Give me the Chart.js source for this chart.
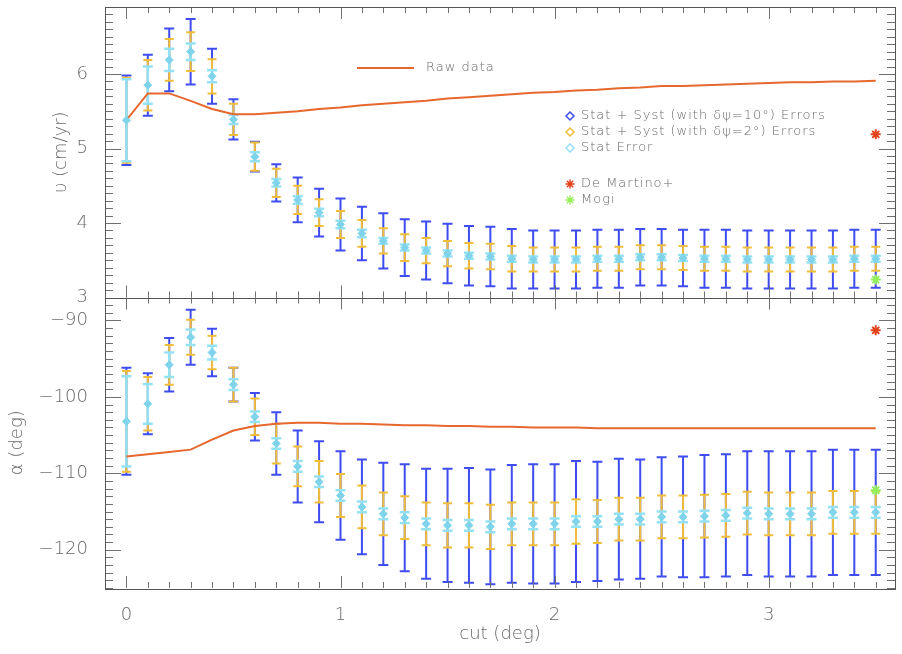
<!DOCTYPE html>
<html>
<head>
<meta charset="utf-8">
<script src="https://cdn.jsdelivr.net/npm/chart.js@4.4.0/dist/chart.umd.min.js"></script>
<style>
  html, body { margin: 0; padding: 0; background: #fff; }
  canvas { display: block; }
</style>
</head>
<body>
<canvas id="myChart" width="902" height="654"></canvas>
<script>
// cut values (deg)
const cuts = [0.0, 0.1, 0.2, 0.3, 0.4, 0.5, 0.6, 0.7, 0.8, 0.9,
              1.0, 1.1, 1.2, 1.3, 1.4, 1.5, 1.6, 1.7, 1.8, 1.9,
              2.0, 2.1, 2.2, 2.3, 2.4, 2.5, 2.6, 2.7, 2.8, 2.9,
              3.0, 3.1, 3.2, 3.3, 3.4, 3.5];

// top panel: velocity (cm/yr)
const vel = [5.38, 5.85, 6.19, 6.30, 5.97, 5.39, 4.89, 4.54, 4.31, 4.14,
             3.98, 3.86, 3.76, 3.67, 3.63, 3.59, 3.56, 3.55, 3.52, 3.51,
             3.51, 3.51, 3.52, 3.52, 3.54, 3.54, 3.53, 3.52, 3.52, 3.51,
             3.51, 3.51, 3.51, 3.51, 3.52, 3.52];
const velErrSys10 = [0.60, 0.41, 0.42, 0.44, 0.37, 0.27, 0.20, 0.25, 0.30, 0.32,
                     0.35, 0.36, 0.37, 0.38, 0.39, 0.40, 0.40, 0.40, 0.40, 0.39,
                     0.39, 0.39, 0.39, 0.39, 0.38, 0.38, 0.38, 0.39, 0.39, 0.39,
                     0.39, 0.39, 0.39, 0.39, 0.39, 0.39];
const velErrSys2 = [0.57, 0.34, 0.28, 0.26, 0.23, 0.21, 0.19, 0.19, 0.19, 0.18,
                    0.18, 0.18, 0.17, 0.18, 0.17, 0.17, 0.17, 0.17, 0.17, 0.16,
                    0.16, 0.16, 0.16, 0.16, 0.16, 0.16, 0.16, 0.16, 0.16, 0.16,
                    0.16, 0.16, 0.16, 0.16, 0.16, 0.16];
const velErrStat = [0.55, 0.25, 0.15, 0.11, 0.08, 0.06, 0.06, 0.05, 0.05, 0.05,
                    0.05, 0.05, 0.04, 0.04, 0.04, 0.04, 0.04, 0.04, 0.04, 0.04,
                    0.04, 0.04, 0.04, 0.04, 0.04, 0.04, 0.04, 0.04, 0.04, 0.04,
                    0.04, 0.04, 0.04, 0.04, 0.04, 0.04];
const velRaw = [5.38, 5.74, 5.74, 5.64, 5.53, 5.46, 5.46, 5.48, 5.50, 5.53,
                5.55, 5.58, 5.60, 5.62, 5.64, 5.67, 5.69, 5.71, 5.73, 5.75,
                5.76, 5.78, 5.79, 5.81, 5.82, 5.84, 5.84, 5.85, 5.86, 5.87,
                5.88, 5.89, 5.89, 5.90, 5.90, 5.91];

// bottom panel: alpha (deg)
const alpha = [-103.2, -100.9, -95.8, -92.2, -94.2, -98.4, -102.6, -106.1, -109.1, -111.1,
               -112.9, -114.4, -115.3, -115.8, -116.6, -116.8, -116.8, -117.0, -116.6, -116.6,
               -116.6, -116.3, -116.3, -116.0, -116.0, -115.7, -115.7, -115.6, -115.5, -115.2,
               -115.3, -115.3, -115.3, -115.1, -115.1, -115.1];
const alphaErrSys10 = [7.0, 4.0, 3.5, 3.6, 3.1, 2.2, 3.1, 4.1, 4.7, 5.3,
                       5.8, 6.2, 6.7, 7.0, 7.2, 7.4, 7.5, 7.5, 7.7, 7.8,
                       7.8, 7.9, 7.8, 7.9, 7.8, 7.8, 7.9, 8.0, 8.0, 8.1,
                       8.2, 8.2, 8.2, 8.2, 8.2, 8.2];
const alphaErrSys2 = [6.6, 3.5, 2.6, 2.3, 2.2, 2.2, 2.4, 2.6, 2.6, 2.7,
                      2.8, 2.8, 2.8, 2.8, 2.8, 2.9, 2.9, 2.9, 2.8, 2.8,
                      2.8, 2.9, 2.8, 2.8, 2.8, 2.8, 2.8, 2.8, 2.8, 2.8,
                      2.8, 2.8, 2.8, 2.8, 2.8, 2.8];
const alphaErrStat = [5.9, 2.6, 1.6, 1.0, 0.9, 0.7, 0.7, 0.7, 0.7, 0.7,
                      0.7, 0.7, 0.7, 0.7, 0.7, 0.7, 0.7, 0.7, 0.7, 0.7,
                      0.7, 0.7, 0.7, 0.7, 0.7, 0.7, 0.7, 0.7, 0.7, 0.7,
                      0.7, 0.7, 0.7, 0.7, 0.7, 0.7];
const alphaRaw = [-107.8, -107.5, -107.2, -106.9, -105.6, -104.4, -103.8, -103.5, -103.4, -103.4,
                  -103.5, -103.5, -103.6, -103.7, -103.7, -103.8, -103.8, -103.9, -103.9, -104.0,
                  -104.0, -104.0, -104.1, -104.1, -104.1, -104.1, -104.1, -104.1, -104.1, -104.1,
                  -104.1, -104.1, -104.1, -104.1, -104.1, -104.1];

// reference solutions
const refCuts = [3.5];
const deMartinoVel = [5.19];
const deMartinoAlpha = [-91.3];
const mogiVel = [3.24];
const mogiAlpha = [-112.2];

// tick labels
const xTickVals = [0, 1, 2, 3];
const velTickVals = [3, 4, 5, 6];
const alphaTickVals = [-90, -100, -110, -120];

const BLUE = '#3f4cf0';
const GOLD = '#f0bd3a';
const CYAN = '#95e1f4';
const CYAN_PT = '#7fd3ea';
const RAW = '#e6682e';
const RED = '#e4421c';
const GREEN = '#94f05a';
const TEXT = '#6a6a6a';
const FONT = '"DejaVu Sans"';

const pts = (xs, ys) => xs.map((x, i) => ({ x: x, y: ys[i] }));

function errSet(label, axis, ys, errs, color, cap, width, withPoints) {
    return {
        label: label,
        yAxisID: axis,
        data: pts(cuts, ys),
        errors: errs,
        errColor: color,
        errCap: cap,
        errWidth: width,
        pointStyle: 'rectRot',
        pointRadius: withPoints ? 4 : 0,
        pointBackgroundColor: CYAN_PT,
        pointBorderColor: CYAN_PT,
        borderWidth: 1
    };
}

function refSet(label, axis, ys, color) {
    return {
        label: label,
        yAxisID: axis,
        data: pts(refCuts, ys),
        pointStyle: 'star',
        pointRadius: 5,
        pointBorderWidth: 2,
        pointBorderColor: color,
        pointBackgroundColor: color
    };
}

function lineSet(label, axis, ys) {
    return {
        label: label,
        yAxisID: axis,
        data: pts(cuts, ys),
        showLine: true,
        borderColor: RAW,
        borderWidth: 2,
        pointRadius: 0
    };
}

const datasets = [
    errSet('Stat + Syst (with δψ=10°) Errors', 'yv', vel, velErrSys10, BLUE, 5, 2, false),
    errSet('Stat + Syst (with δψ=2°) Errors', 'yv', vel, velErrSys2, GOLD, 4.5, 2, false),
    errSet('Stat Error', 'yv', vel, velErrStat, CYAN, 5, 2.5, true),
    errSet('Stat + Syst (with δψ=10°) Errors', 'ya', alpha, alphaErrSys10, BLUE, 5, 2, false),
    errSet('Stat + Syst (with δψ=2°) Errors', 'ya', alpha, alphaErrSys2, GOLD, 4.5, 2, false),
    errSet('Stat Error', 'ya', alpha, alphaErrStat, CYAN, 5, 2.5, true),
    lineSet('Raw data', 'yv', velRaw),
    lineSet('Raw data', 'ya', alphaRaw),
    refSet('De Martino+', 'yv', deMartinoVel, RED),
    refSet('De Martino+', 'ya', deMartinoAlpha, RED),
    refSet('Mogi', 'yv', mogiVel, GREEN),
    refSet('Mogi', 'ya', mogiAlpha, GREEN)
];

// error bars drawn behind the points, through the y scales
const errorBars = {
    id: 'errorBars',
    beforeDatasetsDraw(chart) {
        const ctx = chart.ctx;
        chart.data.datasets.forEach((ds, i) => {
            if (!ds.errors) return;
            const meta = chart.getDatasetMeta(i);
            const ys = chart.scales[ds.yAxisID];
            ctx.save();
            ctx.strokeStyle = ds.errColor;
            ctx.lineWidth = ds.errWidth;
            meta.data.forEach((el, j) => {
                const v = ds.data[j].y, e = ds.errors[j];
                const x = el.x;
                const y1 = ys.getPixelForValue(v + e);
                const y2 = ys.getPixelForValue(v - e);
                const c = ds.errCap;
                ctx.beginPath();
                ctx.moveTo(x, y1); ctx.lineTo(x, y2);
                ctx.moveTo(x - c, y1); ctx.lineTo(x + c, y1);
                ctx.moveTo(x - c, y2); ctx.lineTo(x + c, y2);
                ctx.stroke();
            });
            ctx.restore();
        });
    }
};

// IDL style frame with inward ticks on all sides
const frameTicks = {
    id: 'frameTicks',
    afterDatasetsDraw(chart) {
        const ctx = chart.ctx;
        const xs = chart.scales.x;
        const L = xs.left, R = xs.right;
        ctx.save();
        ctx.lineWidth = 1;
        [['yv', 0.1, 1], ['ya', 1, 10]].forEach(([id, minor, major]) => {
            const s = chart.scales[id];
            const T = s.top, B = s.bottom;
            ctx.strokeStyle = '#707070';
            ctx.beginPath();
            // x ticks
            for (let k = -1; k <= 36; k++) {
                const v = k / 10;
                const px = Math.round(xs.getPixelForValue(v)) + 0.5;
                if (px < L || px > R) continue;
                const len = (k % 10 === 0) ? 12 : 6;
                ctx.moveTo(px, T); ctx.lineTo(px, T + len);
                ctx.moveTo(px, B); ctx.lineTo(px, B - len);
            }
            // y ticks
            const n0 = Math.ceil(s.min / minor - 1e-6), n1 = Math.floor(s.max / minor + 1e-6);
            for (let k = n0; k <= n1; k++) {
                const v = k * minor;
                const py = Math.round(s.getPixelForValue(v)) + 0.5;
                const isMajor = Math.abs(v / major - Math.round(v / major)) < 1e-6;
                const len = isMajor ? 16 : 8;
                ctx.moveTo(L, py); ctx.lineTo(L + len, py);
                ctx.moveTo(R, py); ctx.lineTo(R - len, py);
            }
            ctx.stroke();
            ctx.strokeStyle = '#555';
            ctx.strokeRect(Math.round(L) + 0.5, Math.round(T) + 0.5, Math.round(R - L), Math.round(B - T));
        });
        ctx.restore();
    }
};

// in-plot legends
const panelLegend = {
    id: 'panelLegend',
    afterDraw(chart) {
        const ctx = chart.ctx;
        ctx.save();
        ctx.font = '200 13px ' + FONT;
        ctx.letterSpacing = '1px';
        ctx.fillStyle = TEXT;
        ctx.textBaseline = 'middle';

        ctx.strokeStyle = RAW;
        ctx.lineWidth = 2;
        ctx.beginPath(); ctx.moveTo(357, 68); ctx.lineTo(414, 68); ctx.stroke();
        ctx.fillText('Raw data', 426, 68);

        const rows = [
            [datasets[0].label, BLUE, 'diamond', 116],
            [datasets[1].label, GOLD, 'diamond', 132],
            [datasets[2].label, CYAN, 'diamond', 148],
            [datasets[8].label, RED, 'star', 184],
            [datasets[10].label, GREEN, 'star', 200]
        ];
        rows.forEach(([label, color, shape, y]) => {
            const x = 570;
            ctx.strokeStyle = color;
            ctx.lineWidth = 1.5;
            ctx.beginPath();
            if (shape === 'diamond') {
                ctx.moveTo(x, y - 4); ctx.lineTo(x + 4, y); ctx.lineTo(x, y + 4); ctx.lineTo(x - 4, y); ctx.closePath();
            } else {
                for (let a = 0; a < 4; a++) {
                    const t = a * Math.PI / 4;
                    ctx.moveTo(x - 4.5 * Math.cos(t), y - 4.5 * Math.sin(t));
                    ctx.lineTo(x + 4.5 * Math.cos(t), y + 4.5 * Math.sin(t));
                }
            }
            ctx.stroke();
            ctx.fillText(label, 581, y);
        });
        ctx.restore();
    }
};

const tickFont = { family: FONT, size: 18, weight: '200' };
const titleFont = { family: FONT, size: 18, weight: '200' };
const minusSign = v => String(v).replace('-', '\u2212');

// fixed axis boxes, no extra room for end labels
const fixWidth = s => { s.width = 105; s.paddingTop = 0; s.paddingBottom = 0; };
const fixHeight = s => { s.height = 66; s.paddingLeft = 0; s.paddingRight = 0; };

const ctx = document.getElementById('myChart').getContext('2d');
const chart = new Chart(ctx, {
    type: 'scatter',
    data: { datasets: datasets },
    plugins: [errorBars, frameTicks, panelLegend],
    options: {
        responsive: false,
        animation: false,
        devicePixelRatio: 1,
        layout: { padding: { top: 3, right: 5, left: 0, bottom: 0 } },
        plugins: { legend: { display: false }, tooltip: { enabled: false } },
        scales: {
            x: {
                type: 'linear',
                position: 'bottom',
                min: -0.1,
                max: 3.59,
                grid: { display: false },
                border: { display: false },
                afterBuildTicks: s => { s.ticks = xTickVals.map(v => ({ value: v })); },
                afterFit: fixHeight,
                ticks: { font: tickFont, color: TEXT, padding: 9 },
                title: { display: true, text: 'cut (deg)', font: titleFont, color: TEXT, padding: { bottom: 9 } }
            },
            yv: {
                type: 'linear',
                position: 'left',
                stack: 'panels',
                stackWeight: 1,
                weight: 1,
                min: 3,
                max: 6.9,
                grid: { display: false },
                border: { display: false },
                afterBuildTicks: s => { s.ticks = velTickVals.map(v => ({ value: v })); },
                afterFit: fixWidth,
                ticks: { font: tickFont, color: TEXT, padding: 9, callback: minusSign },
                title: { display: true, text: 'υ (cm/yr)', font: titleFont, color: TEXT, padding: { top: 51 } }
            },
            ya: {
                type: 'linear',
                position: 'left',
                stack: 'panels',
                stackWeight: 1,
                weight: 0,
                min: -125,
                max: -87,
                grid: { display: false },
                border: { display: false },
                afterBuildTicks: s => { s.ticks = alphaTickVals.map(v => ({ value: v })); },
                afterFit: fixWidth,
                ticks: { font: tickFont, color: TEXT, padding: 9, callback: minusSign },
                title: { display: true, text: 'α (deg)', font: titleFont, color: TEXT, padding: { top: 7 } }
            }
        }
    }
});
</script>
</body>
</html>
